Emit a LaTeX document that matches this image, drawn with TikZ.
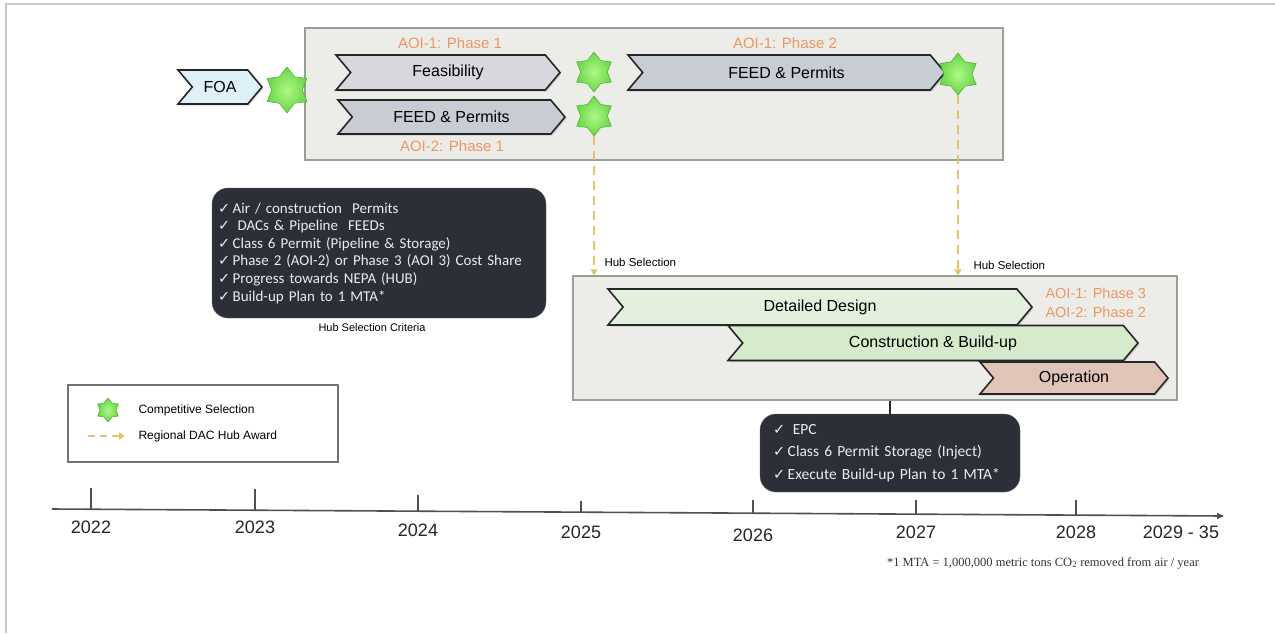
\documentclass[tikz,border=0pt]{standalone}
\usepackage{fontspec}
\setmainfont{Liberation Sans}
\newfontfamily\calfont{Carlito}
\newfontfamily\serfont{Liberation Serif}
\newfontfamily\symfont{DejaVu Sans}
\usetikzlibrary{shapes.symbols,shapes.geometric,calc,arrows.meta,shadows}

\definecolor{panelfill}{RGB}{236,237,233}
\definecolor{panelline}{RGB}{150,160,150}
\definecolor{phasecol}{RGB}{236,150,100}
\definecolor{darkfill}{RGB}{44,47,56}
\definecolor{darktext}{RGB}{236,236,236}
\definecolor{awardcol}{RGB}{226,196,100}
\definecolor{starouter}{RGB}{105,215,70}
\definecolor{starinner}{RGB}{175,248,135}
\definecolor{starline}{RGB}{80,170,55}
\definecolor{foafill}{RGB}{222,240,248}
\definecolor{grayA}{RGB}{214,216,222}
\definecolor{grayB}{RGB}{200,204,213}
\definecolor{greenA}{RGB}{228,240,222}
\definecolor{greenB}{RGB}{214,234,204}
\definecolor{tanfill}{RGB}{224,196,182}
\definecolor{framegray}{RGB}{200,200,200}
\definecolor{axiscol}{RGB}{80,80,80}

\newcommand{\ck}{{\symfont\fontsize{14.5}{12}\selectfont ✓}\,}

\tikzset{
  chev/.style={signal, signal from=west, signal to=east, signal pointer angle=100,
    draw=black!85, line width=1.6pt, inner sep=0pt,
    drop shadow={shadow xshift=1.5pt, shadow yshift=-1.5pt, opacity=0.3},
    font=\fontsize{16}{19}\selectfont},
  panel/.style={draw=panelline, fill=panelfill, line width=1.2pt, inner sep=0pt},
  phaselbl/.style={text=phasecol, font=\fontsize{15}{18}\selectfont},
  selstar/.style={star, star points=6, star point ratio=1.5, inner sep=0pt,
    draw=starline, line width=0.5pt, inner color=starinner, outer color=starouter},
  award/.style={draw=awardcol, line width=2.6pt, dash pattern=on 9pt off 6pt,
    -{Triangle[length=6pt,width=7pt]}},
  darkbox/.style={fill=darkfill, draw=black!60, rounded corners=16pt, text=darktext,
    align=left},
  small/.style={font=\fontsize{11.5}{13}\selectfont},
  yearlbl/.style={font=\fontsize{18}{20}\selectfont, text=black!85},
}

\begin{document}
\begin{tikzpicture}[x=1pt, y=-1pt]
\useasboundingbox (0,0) rectangle (1275,633);
\fill[white] (0,0) rectangle (1275,633);
% page frame
\draw[framegray, line width=2pt] (6,633) -- (6,3.5) -- (1275,3.5);

% ---------- upper phase panel ----------
\node[panel, minimum width=698pt, minimum height=132pt] (top) at (654,94) {};

\node[chev, fill=foafill, minimum width=84pt, minimum height=34pt] (foa) at (220,87) {FOA};
\node[selstar, minimum size=46pt] (s1) at (287,90) {};

\node[chev, fill=grayA, minimum width=224pt, minimum height=35pt] (feas) at (448,72.5) {Feasibility};
\node[phaselbl] (p11) at (450,43) {AOI-1: Phase 1};
\node[chev, fill=grayB, minimum width=227pt, minimum height=34pt] (feed2) at (451.5,117) {FEED \& Permits};
\node[phaselbl] (p21) at (452,146) {AOI-2: Phase 1};

\node[selstar, minimum size=40pt] (s2) at (594,72) {};
\node[selstar, minimum size=40pt] (s3) at (594,116) {};

\node[chev, fill=grayB, minimum width=317pt, minimum height=35pt] (feed1) at (786.5,72.5) {FEED \& Permits};
\node[phaselbl] (p12) at (785,43) {AOI-1: Phase 2};
\node[selstar, minimum size=42pt] (s4) at (958,74) {};

% ---------- lower phase panel ----------
\node[panel, minimum width=604pt, minimum height=124pt] (bot) at (875,338) {};
\node[chev, fill=greenA, minimum width=424pt, minimum height=36pt] (dd) at (820,307) {Detailed Design};
\node[chev, fill=greenB, minimum width=410pt, minimum height=35pt] (cb) at (933,343) {Construction \& Build-up};
\node[chev, fill=tanfill, minimum width=188pt, minimum height=32pt] (op) at (1074,378) {Operation};
\node[phaselbl, font=\fontsize{14.5}{17}\selectfont, anchor=west] (p13) at (1042,293) {AOI-1: Phase 3};
\node[phaselbl, font=\fontsize{14.5}{17}\selectfont, anchor=west] (p22) at (1042,312) {AOI-2: Phase 2};

% ---------- hub award connectors ----------
\draw[award] (s3.south) -- (s3.south |- bot.north);
\draw[award] (s4.south) -- (s4.south |- bot.north);
\node[small, anchor=west] (hs1) at (601,262) {Hub Selection};
\node[small, anchor=west] (hs2) at (970,265) {Hub Selection};

% ---------- hub selection criteria ----------
\node[darkbox, minimum width=334pt, minimum height=130pt, text width=322pt, inner xsep=6pt,
      font=\calfont\fontsize{15}{17.6}\selectfont] (crit) at (379,253)
  {\ck Air / construction\ \ Permits\\
   \ck\ DACs \& Pipeline\ \ FEEDs\\
   \ck Class 6 Permit (Pipeline \& Storage)\\
   \ck Phase 2 (AOI-2) or Phase 3 (AOI 3) Cost Share\\
   \ck Progress towards NEPA (HUB)\\
   \ck Build-up Plan to 1 MTA*};
\node[small, font=\fontsize{11}{13}\selectfont] (critlbl) at (372,328) {Hub Selection Criteria};

% ---------- execution box ----------
\node[darkbox, minimum width=260pt, minimum height=78pt, text width=246pt, inner xsep=7pt,
      font=\calfont\fontsize{15.5}{22.5}\selectfont] (epc) at (890,453)
  {\hspace*{6pt}\ck\ EPC\\
   \hspace*{6pt}\ck Class 6 Permit Storage (Inject)\\
   \hspace*{6pt}\ck Execute Build-up Plan to 1 MTA*};
\draw[black!85, line width=2pt] (epc.north |- bot.south) -- (epc.north);

% ---------- legend ----------
\node[draw=black!55, line width=1.2pt, minimum width=270pt, minimum height=77pt] (leg) at (203,423.5) {};
\node[selstar, minimum size=24pt] (legstar) at (108,410) {};
\coordinate (la) at (88,436);
\coordinate (lb) at (125,436);
\draw[award, line width=2.2pt, dash pattern=on 7pt off 5pt] (la) -- (lb);
\node[small, font=\fontsize{12}{14}\selectfont, anchor=west] (leg1) at (135,410) {Competitive Selection};
\node[small, font=\fontsize{12}{14}\selectfont, anchor=west] (leg2) at (135,436) {Regional DAC Hub Award};

% ---------- time axis ----------
\coordinate (t0) at (52,509);
\coordinate (t1) at (1224,516);
\draw[axiscol, line width=1.6pt, -{Triangle[length=7pt,width=6pt]}] (t0) -- (t1);
\foreach \x/\h/\yr/\ly in {91/21/2022/527, 255/21/2023/527, 418/16/2024/530,
                           581/11/2025/532, 753/13/2026/535, 916/14/2027/532, 1076/15/2028/532} {
  \coordinate (k\yr) at ($(t0)!{(\x-52)/1172}!(t1)$);
  \draw[axiscol, line width=1.2pt] (k\yr) -- ++(0,-\h);
  \node[yearlbl] (y\yr) at (\x,\ly) {\yr};
}
\node[yearlbl] (y2029) at (1181,532) {2029 - 35};

% footnote
\node[font=\serfont\fontsize{12.5}{14}\selectfont, text=black!80] (note) at (1043,563)
  {*1 MTA = 1,000,000 metric tons CO\textsubscript{2} removed from air / year};
\end{tikzpicture}
\end{document}
